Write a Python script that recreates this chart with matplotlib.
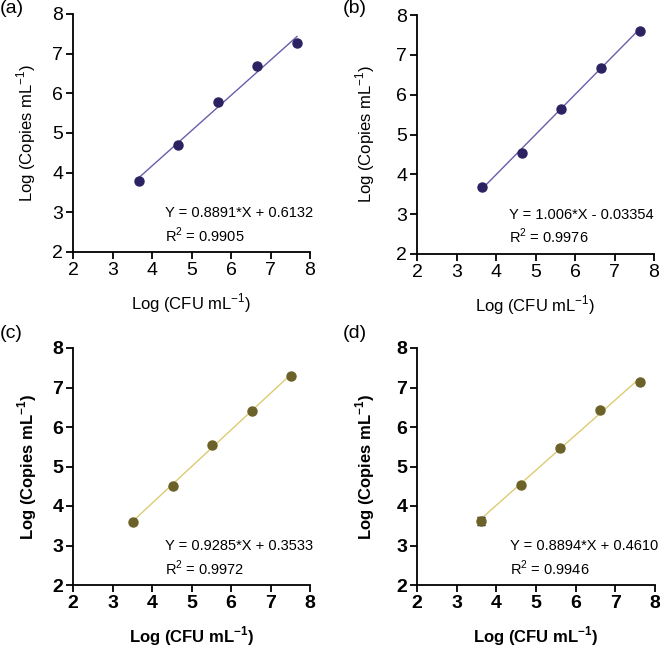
import matplotlib
matplotlib.use("Agg")
import matplotlib.pyplot as plt
import numpy as np

plt.rcParams['font.family'] = ['Liberation Sans', 'DejaVu Sans']

# Data
x_a = [3.68, 4.67, 5.67, 6.67, 7.67]
y_a = [3.80, 4.71, 5.77, 6.68, 7.27]
x_b = [3.65, 4.65, 5.65, 6.65, 7.65]
y_b = [3.67, 4.54, 5.64, 6.68, 7.61]
x_c = [3.52, 4.52, 5.52, 6.52, 7.52]
y_c = [3.60, 4.50, 5.54, 6.41, 7.29]
x_d = [3.61, 4.61, 5.60, 6.61, 7.61]
y_d = [3.63, 4.54, 5.47, 6.43, 7.14]
err_d = [0.10, 0.04, 0.04, 0.04, 0.04]

slopes = [0.8891, 1.006, 0.9285, 0.8894]
intercepts = [0.6132, -0.03354, 0.3533, 0.4610]
eq_texts = ["Y = 0.8891*X + 0.6132", "Y = 1.006*X - 0.03354",
            "Y = 0.9285*X + 0.3533", "Y = 0.8894*X + 0.4610"]
r2_texts = ["0.9905", "0.9976", "0.9972", "0.9946"]
panel_labels = ["(a)", "(b)", "(c)", "(d)"]
ticks = [2, 3, 4, 5, 6, 7, 8]

purple_mk = "#2B2262"
purple_ln = "#6B5CAC"
olive_mk = "#6B6129"
olive_ln = "#DCCB72"

fig = plt.figure(figsize=(6.6, 6.48), dpi=100)

W, H = 660, 648
boxes = [(73, 14, 310, 252), (417, 15, 654, 254), (73, 348, 310, 585), (417, 348, 655, 585)]
datasets = [(x_a, y_a, None), (x_b, y_b, None), (x_c, y_c, None), (x_d, y_d, err_d)]
mk_colors = [purple_mk, purple_mk, olive_mk, olive_mk]
ln_colors = [purple_ln, purple_ln, olive_ln, olive_ln]
bold = [False, False, True, True]
label_pos = [(0, 0), (343, 0), (0, 325), (343, 325)]
ylabel_pads = [10, 14, 10, 14]

for i in range(4):
    l, t, r, b = boxes[i]
    ax = fig.add_axes([l / W, 1 - b / H, (r - l) / W, (b - t) / H])
    xs, ys, err = datasets[i]
    xf = np.array([xs[0], xs[-1]])
    ax.plot(xf, slopes[i] * xf + intercepts[i], color=ln_colors[i], lw=1.0, zorder=2)
    if err is not None:
        ax.errorbar(xs, ys, yerr=err, fmt='none', ecolor='black', elinewidth=1.0,
                    capsize=3, capthick=1.0, zorder=2.5)
    ax.plot(xs, ys, 'o', color=mk_colors[i], markersize=6.5, zorder=3)
    ax.set_xlim(2, 8)
    ax.set_ylim(2, 8)
    ax.set_xticks(ticks)
    ax.set_yticks(ticks)
    for s in ['top', 'right']:
        ax.spines[s].set_visible(False)
    for s in ['left', 'bottom']:
        ax.spines[s].set_linewidth(1.3)
    ax.tick_params(direction='out', length=5, width=1.3, labelsize=14, pad=2)
    fw = 'bold' if bold[i] else 'normal'
    for lab in ax.get_xticklabels() + ax.get_yticklabels():
        lab.set_fontweight(fw)
    ax.set_xlabel("Log (CFU mL$^{\\mathregular{-1}}$)", fontsize=12, fontweight=fw, labelpad=9)
    ax.set_ylabel("Log (Copies mL$^{\\mathregular{-1}}$)", fontsize=12, fontweight=fw,
                  labelpad=ylabel_pads[i])
    ax.text(0.39, 0.165, eq_texts[i], transform=ax.transAxes, fontsize=10.5, va='center', ha='left')
    ax.text(0.39, 0.072, "R$^{\\mathregular{2}}$ = " + r2_texts[i], transform=ax.transAxes,
            fontsize=10.5, va='center', ha='left')
    lx, ly = label_pos[i]
    fig.text(lx / W, 1 - ly / H, panel_labels[i], fontsize=14, va='top', ha='left')

fig.savefig("out.png", dpi=100)
